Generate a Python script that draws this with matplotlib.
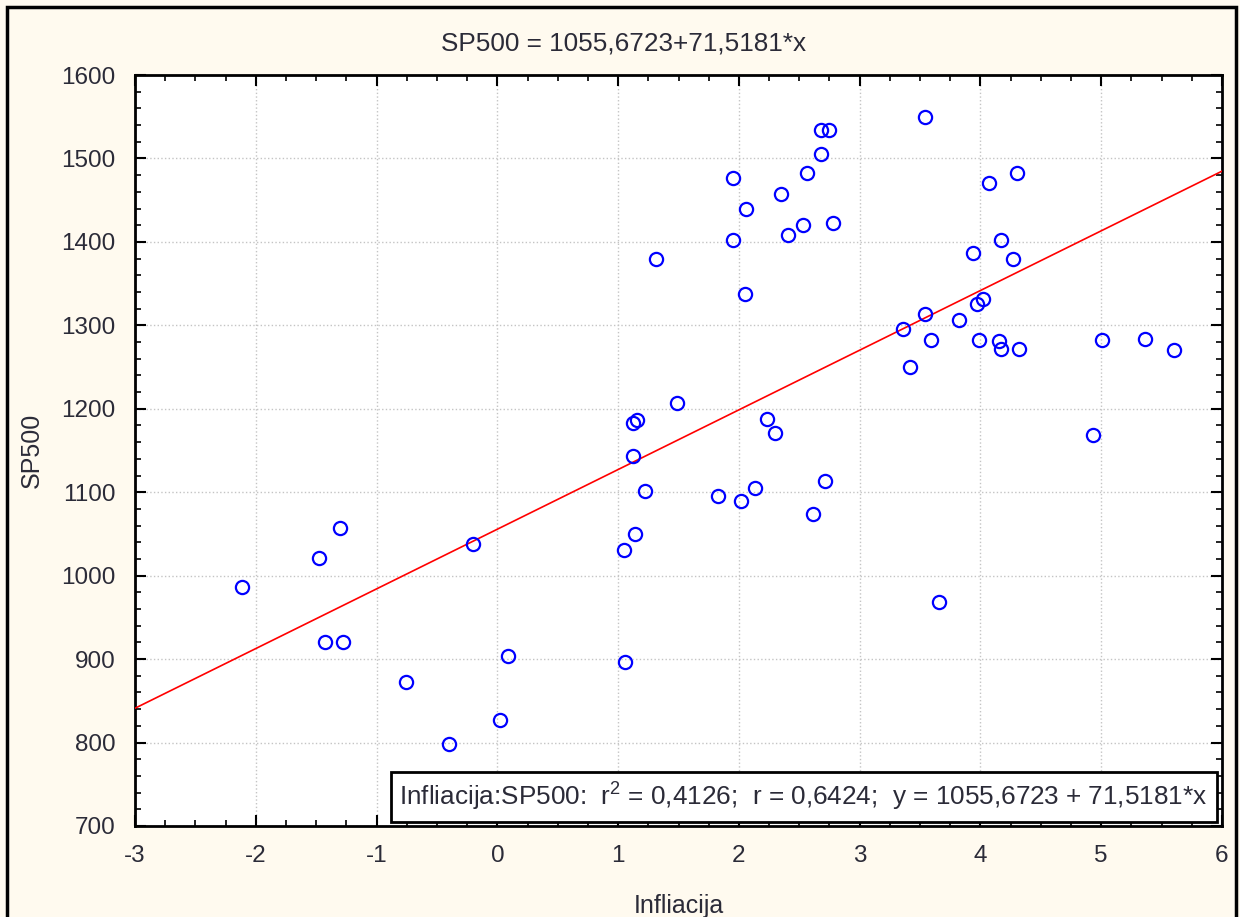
import matplotlib
matplotlib.use('Agg')
import matplotlib.pyplot as plt
from matplotlib.patches import Rectangle
from matplotlib.ticker import MultipleLocator
import numpy as np

plt.rcParams['font.family'] = ['Liberation Sans', 'DejaVu Sans']
plt.rcParams['mathtext.fontset'] = 'custom'
plt.rcParams['mathtext.rm'] = 'Liberation Sans'
plt.rcParams['mathtext.it'] = 'Liberation Sans'
plt.rcParams['axes.unicode_minus'] = False

# inflation vs SP500 points
infliacija = [-2.11, -1.48, -1.30, -1.43, -1.28, -0.76, -0.40, -0.20, 0.02, 0.085,
              1.045, 1.14, 1.22, 1.06, 1.83, 2.02, 2.13, 2.61, 2.71, 3.655,
              3.54, 2.68, 2.745, 2.68, 2.56, 1.95, 4.07, 4.30, 2.35, 2.06,
              2.53, 2.78, 2.41, 1.95, 4.17, 1.31, 3.94, 4.27, 2.05, 4.02,
              3.97, 3.54, 3.82, 3.36, 3.59, 3.99, 4.15, 4.17, 4.32, 5.01,
              5.36, 5.60, 3.42, 1.49, 1.12, 1.16, 2.23, 2.30, 4.93, 1.12]
sp500 = [987, 1021, 1057, 920, 920, 872, 798, 1038, 827, 904,
         1031, 1050, 1102, 896, 1096, 1090, 1105, 1074, 1114, 968,
         1550, 1534, 1534, 1505, 1483, 1476, 1471, 1483, 1457, 1440,
         1420, 1423, 1408, 1402, 1402, 1380, 1387, 1380, 1337, 1332,
         1325, 1313, 1306, 1296, 1282, 1282, 1281, 1272, 1272, 1282,
         1284, 1270, 1250, 1207, 1183, 1186, 1188, 1171, 1169, 1143]

intercept = 1055.6723
slope = 71.5181

title = 'SP500 = 1055,6723+71,5181*x'
box_text = 'Infliacija:SP500:  r$^2$ = 0,4126;  r = 0,6424;  y = 1055,6723 + 71,5181*x'

txt_color = '#2b2b38'
bg = '#fffaef'

fig = plt.figure(figsize=(12.4, 9.17), dpi=100)
fig.patch.set_facecolor(bg)
ax = fig.add_axes([135/1240, 1 - 826/917, (1222 - 135)/1240, (826 - 75)/917])
ax.set_facecolor('white')

ax.grid(True, color='#c4c4c4', linestyle=':', linewidth=1.0)
ax.set_axisbelow(True)

xs = np.array([-3, 6])
ax.plot(xs, intercept + slope * xs, color='#ff0000', linewidth=1.2, zorder=3)
ax.plot(infliacija, sp500, 'o', markerfacecolor='none', markeredgecolor='#0000ff',
        markersize=9.5, markeredgewidth=1.6, zorder=4)

ax.set_xlim(-3, 6)
ax.set_ylim(700, 1600)
ax.xaxis.set_major_locator(MultipleLocator(1))
ax.xaxis.set_minor_locator(MultipleLocator(0.25))
ax.yaxis.set_major_locator(MultipleLocator(100))
ax.yaxis.set_minor_locator(MultipleLocator(20))
ax.tick_params(which='both', direction='in', top=True, right=True, colors='black',
               labelcolor=txt_color, labelsize=17.5)
ax.tick_params(which='major', length=8, width=1.5)
ax.tick_params(which='minor', length=4, width=1.2)
ax.tick_params(axis='x', pad=14)
ax.tick_params(axis='y', pad=14)
for s in ax.spines.values():
    s.set_linewidth(2)

ax.set_xlabel('Infliacija', fontsize=18, color=txt_color)
ax.xaxis.set_label_coords(0.5, -0.09)
ax.set_ylabel('SP500', fontsize=18, color=txt_color)
ax.yaxis.set_label_coords(-0.084, 0.5)

fig.text(0.503, 0.953, title, ha='center', va='center', fontsize=18.8, color=txt_color)

# statistics box in the lower right corner
ax.add_patch(Rectangle((0.2355, 0.0053), 0.9954 - 0.2355, 0.0719 - 0.0053,
                       transform=ax.transAxes, facecolor='white', edgecolor='black',
                       linewidth=2, zorder=5, clip_on=False))
ax.text(0.2429, 0.0386, box_text, transform=ax.transAxes, ha='left', va='center',
        fontsize=18.8, color=txt_color, zorder=6)

# outer frame of the figure
fig.patches.append(Rectangle((7/1240, -0.02), (1236 - 7)/1240, 1.02 - 7/917,
                             transform=fig.transFigure, fill=False,
                             edgecolor='black', linewidth=2.5))

fig.savefig('out.png', dpi=100, facecolor=bg)
